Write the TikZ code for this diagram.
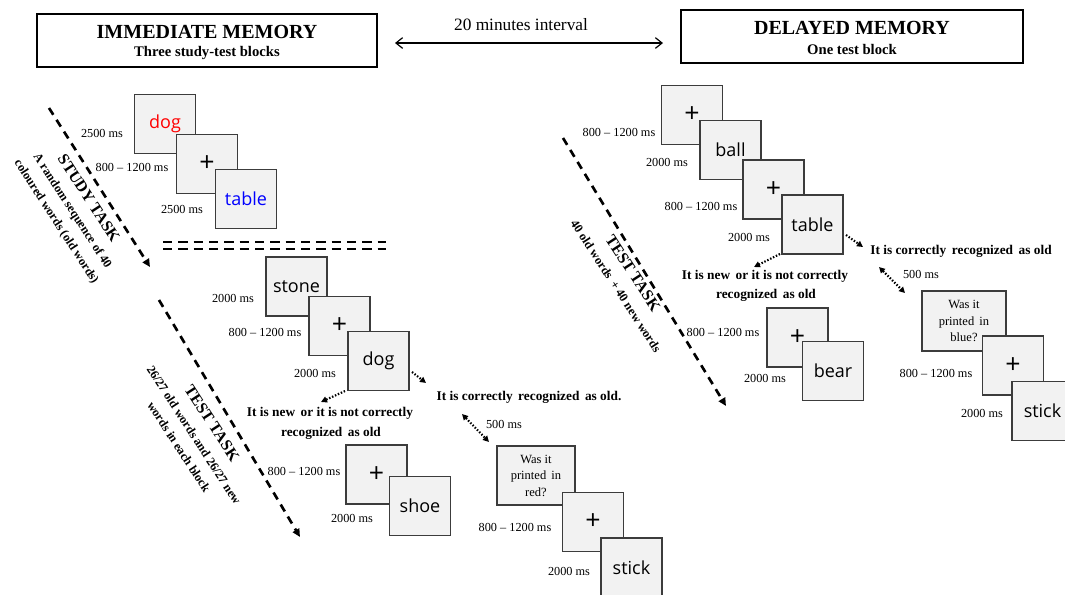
\documentclass[tikz,border=0pt]{standalone}
\usepackage{fontspec}
\setmainfont{Liberation Serif}
\newfontfamily\wordfont{Open Sans}
\usetikzlibrary{arrows.meta}
\definecolor{boxfill}{RGB}{242,242,242}
\definecolor{boxline}{RGB}{60,60,60}
\definecolor{wordred}{RGB}{255,0,0}
\definecolor{wordblue}{RGB}{0,0,255}
\begin{document}
\begin{tikzpicture}[x=0.75pt,y=-0.75pt,
  hbox/.style={draw=black, line width=0.9pt, minimum width=255pt, minimum height=39.75pt, inner sep=0pt},
  htitle/.style={font=\bfseries\fontsize{15}{18}\selectfont, inner sep=0pt},
  hsub/.style={font=\bfseries\fontsize{11}{13}\selectfont, inner sep=0pt},
  stim/.style={draw=boxline, fill=boxfill, line width=0.9pt, minimum width=45.75pt, minimum height=44.25pt, inner sep=0pt, font=\wordfont\fontsize{13.5}{16}\selectfont},
  fix/.style={stim, font=\wordfont\fontsize{20}{22}\selectfont},
  qbox/.style={draw=boxline, fill=boxfill, line width=0.9pt, minimum width=58.5pt, minimum height=44.25pt, inner sep=0pt, align=center, font=\fontsize{9.4}{12.4}\selectfont},
  ms/.style={font=\fontsize{9.2}{11}\selectfont, inner sep=0pt},
  outcome/.style={font=\bfseries\fontsize{10}{12}\selectfont, inner sep=0pt},
  rotline/.style={rotate=-57, inner sep=0pt, font=\bfseries\fontsize{9.3}{11}\selectfont},
  rottitle/.style={rotate=-57, inner sep=0pt, font=\bfseries\fontsize{12}{14}\selectfont},
  taskarrow/.style={line width=2pt, dash pattern=on 6pt off 4.5pt, -{Triangle[length=6pt,width=5.5pt]}},
  dotarrow/.style={line width=1.6pt, dash pattern=on 1.1pt off 1.3pt, -{Triangle[length=4.5pt,width=4.5pt]}},
  dotboth/.style={line width=1.6pt, dash pattern=on 1.1pt off 1.3pt, {Triangle[length=4.5pt,width=4.5pt]}-{Triangle[length=4.5pt,width=4.5pt]}},
  sepline/.style={line width=2pt, dash pattern=on 7pt off 4.5pt}
]
\useasboundingbox (0,0) rectangle (1065,594);

% ---------- header ----------
\node[hbox] (imm) at (207,40.5) {};
\node[htitle] (immt) at (207,32) {IMMEDIATE MEMORY};
\node[hsub] (imms) at (207,53) {Three study-test blocks};
\node[hbox, minimum width=256.5pt] (del) at (852,36.5) {};
\node[htitle] (delt) at (852,28) {DELAYED MEMORY};
\node[hsub] (dels) at (852,49) {One test block};
\node[font=\fontsize{13}{15}\selectfont, inner sep=0pt] (intv) at (521,25) {20 minutes interval};
\coordinate (ia) at (395,43);
\coordinate (ib) at (663,43);
\draw[line width=0.9pt, {Straight Barb[length=5pt,width=8pt]}-{Straight Barb[length=5pt,width=8pt]}] (ia) -- (ib);

% ---------- study task ----------
\coordinate (sa1) at (49,108);
\coordinate (sa2) at (150,267);
\draw[taskarrow] (sa1) -- (sa2);
\node[rottitle] (stt) at (89,198) {STUDY TASK};
\node[rotline] (st1) at (72,211) {A random sequence of 40};
\node[rotline] (st2) at (56,222) {coloured words (old words)};

\node[stim, text=wordred] (s1) at (165,124) {dog};
\node[fix] (s2) at (207,164) {+};
\node[stim, text=wordblue] (s3) at (246,199) {table};
\node[ms] (l1) at (102,133) {2500 ms};
\node[ms] (l2) at (132,167) {800 – 1200 ms};
\node[ms] (l3) at (182,209) {2500 ms};

% separator
\coordinate (dd1) at (163,242);
\coordinate (dd2) at (386,242);
\coordinate (dd3) at (163,249);
\coordinate (dd4) at (386,249);
\draw[sepline] (dd1) -- (dd2);
\draw[sepline] (dd3) -- (dd4);

% ---------- immediate test task ----------
\coordinate (ta1) at (159,300);
\coordinate (ta2) at (300,537);
\draw[taskarrow] (ta1) -- (ta2);
\node[rottitle] (itt) at (212,423) {TEST TASK};
\node[rotline] (it1) at (194,435) {26/27 old words and 26/27 new};
\node[rotline] (it2) at (179,447) {words in each block};

\node[stim] (t1) at (296.5,286.5) {stone};
\node[fix] (t2) at (339.5,326) {+};
\node[stim] (t3) at (378.5,361) {dog};
\node[ms] (l4) at (233,298) {2000 ms};
\node[ms] (l5) at (265,332) {800 – 1200 ms};
\node[ms] (l6) at (315,373) {2000 ms};

\coordinate (c1a) at (345,391);
\coordinate (c1b) at (321,402);
\draw[dotarrow] (c1a) -- (c1b);
\coordinate (c2a) at (412,372);
\coordinate (c2b) at (426,383);
\draw[dotarrow] (c2a) -- (c2b);

\node[outcome] (o1) at (330,413) {It is new\, or it is not correctly};
\node[outcome] (o2) at (331,433) {recognized\, as old};
\node[outcome] (o3) at (529,397) {It is correctly\, recognized\, as old.};

\node[fix] (n1) at (376.5,474.5) {+};
\node[stim] (n2) at (420,506) {shoe};
\node[ms] (l7) at (304,471) {800 – 1200 ms};
\node[ms] (l8) at (352,518) {2000 ms};

\coordinate (c3a) at (462,414);
\coordinate (c3b) at (489,442);
\draw[dotboth] (c3a) -- (c3b);
\node[ms] (l9) at (504,424) {500 ms};

\node[qbox] (q1) at (536,475.5) {Was it\\printed\, in\\red?};
\node[fix] (q2) at (593,522) {+};
\node[stim] (q3) at (631.5,567.5) {stick};
\node[ms] (l10) at (515,527) {800 – 1200 ms};
\node[ms] (l11) at (569,571) {2000 ms};

% ---------- delayed test task ----------
\coordinate (da1) at (563,138);
\coordinate (da2) at (726,406);
\draw[taskarrow] (da1) -- (da2);
\node[rottitle] (dtt) at (633,273) {TEST TASK};
\node[rotline] (dt1) at (616,286) {40 old words\, + 40 new words};

\node[fix] (d1) at (692,115) {+};
\node[stim] (d2) at (730.5,150) {ball};
\node[fix] (d3) at (773.5,189.5) {+};
\node[stim] (d4) at (812.5,224.5) {table};
\node[ms] (m1) at (619,132) {800 – 1200 ms};
\node[ms] (m2) at (667,162) {2000 ms};
\node[ms] (m3) at (701,206) {800 – 1200 ms};
\node[ms] (m4) at (749,237) {2000 ms};

\coordinate (e1a) at (780,254);
\coordinate (e1b) at (754,267);
\draw[dotarrow] (e1a) -- (e1b);
\coordinate (e2a) at (846,235);
\coordinate (e2b) at (863,247);
\draw[dotarrow] (e2a) -- (e2b);

\node[outcome] (p1) at (765,276) {It is new\, or it is not correctly};
\node[outcome] (p2) at (766,295) {recognized\, as old};
\node[outcome] (p3) at (961,251) {It is correctly\, recognized\, as old};

\node[fix] (dn1) at (797.5,337.5) {+};
\node[stim] (dn2) at (833,371) {bear};
\node[ms] (m5) at (723,332) {800 – 1200 ms};
\node[ms] (m6) at (765,378) {2000 ms};

\coordinate (e3a) at (879,267);
\coordinate (e3b) at (905,293);
\draw[dotboth] (e3a) -- (e3b);
\node[ms] (m7) at (921,274) {500 ms};

\node[qbox, minimum width=63pt, minimum height=45pt] (dq1) at (964,321) {Was it\\printed\, in\\blue?};
\node[fix] (dq2) at (1013,365.5) {+};
\node[stim] (dq3) at (1042.5,411) {stick};
\node[ms] (m8) at (936,373) {800 – 1200 ms};
\node[ms] (m9) at (982,413) {2000 ms};
\end{tikzpicture}
\end{document}
